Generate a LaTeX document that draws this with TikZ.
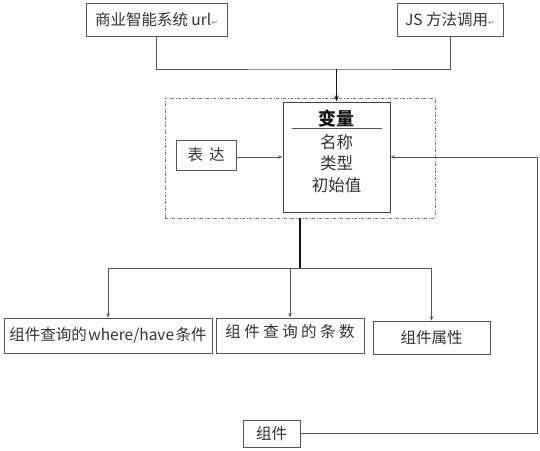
\documentclass[tikz,border=0pt]{standalone}
\usepackage{fontspec}
\setmainfont{Noto Sans CJK SC}
\newfontfamily\symfont{DejaVu Sans}
\usepackage{xcolor}
\usepackage{tikz}
\usetikzlibrary{arrows.meta, positioning, calc}
\definecolor{mydark}{RGB}{20,20,20}
\definecolor{mygray}{RGB}{85,85,85}
\definecolor{mytext}{RGB}{50,50,50}
\definecolor{myframe}{RGB}{115,115,115}
\newcommand{\retmark}{{\symfont\fontsize{8}{8}\selectfont\color{gray}↵}}
\tikzset{
  box/.style={rectangle, draw=mygray, line width=0.9pt, inner sep=0pt,
    font=\fontsize{15.5}{17}\selectfont, text=mytext},
  varbox/.style={rectangle, draw=mydark!80, line width=1pt, inner sep=0pt,
    minimum width=107pt, minimum height=110pt},
  frame/.style={rectangle, draw=myframe, line width=0.8pt, inner sep=0pt,
    dash pattern=on 3pt off 1.5pt on 1pt off 1.5pt},
  field/.style={font=\fontsize{16.5}{18}\selectfont, text=mytext, inner sep=0pt},
  arrow/.style={-{Stealth[length=4.5pt, width=3.5pt]}, line width=0.9pt, color=mygray},
  boldarrow/.style={-{Stealth[length=6pt, width=4.5pt]}, line width=1.6pt, color=mydark},
  line/.style={line width=0.9pt, color=mygray},
  boldline/.style={line width=1.6pt, color=mydark}
}

\begin{document}
\begin{tikzpicture}[x=1pt, y=-1pt]
  \useasboundingbox (0,0) rectangle (540,450);

  % Sources
  \node[box, minimum width=141pt, minimum height=33pt] (url) at (156.5,19.5) {商业智能系统 url\retmark};
  \node[box, minimum width=106pt, minimum height=33pt] (js) at (450,19.5) {JS 方法调用\retmark};

  % Variable group
  \node[frame, minimum width=270pt, minimum height=120pt] (grp) at (300,158) {};
  \node[varbox] (var) at (336.5,157) {};
  \node[field, font=\fontsize{18}{20}\selectfont\bfseries, text=mydark] (vtitle) at (336.5,119) {变量};
  \draw[line, line width=1pt] (292,128) -- (382,128);
  \node[field] (vname) at (336.5,142) {名称};
  \node[field] (vtype) at (336.5,163) {类型};
  \node[field] (vinit) at (336.5,185) {初始值};
  \node[box, minimum width=60pt, minimum height=30pt] (expr) at (206,155) {表\hspace{6pt}达};

  % Targets
  \node[box, minimum width=208pt, minimum height=35pt] (qcond) at (108,335.5) {组件查询的\hspace{1.5pt}where/have\hspace{1.5pt}条件};
  \node[box, minimum width=148pt, minimum height=35pt, text depth=9pt] (qcount) at (290,335.5) {组 件 查 询 的 条 数};
  \node[box, minimum width=117pt, minimum height=33pt] (cattr) at (431.5,337.5) {组件属性\hspace{8pt}};

  % Component
  \node[box, minimum width=57pt, minimum height=27pt] (comp) at (271.5,433.5) {组件\hspace{4pt}};

  % Connectors
  \coordinate (join) at (336.5,69);
  \coordinate (split) at (300,268);
  \coordinate (rt) at (537,157);
  \draw[line] (url.south) |- (join) -| (js.south);
  \draw[boldarrow] (join) -- (var.north);
  \draw[arrow] (expr.east |- var.west) -- (var.west);
  \draw[arrow] (comp.east) -| (rt) -- (var.east);
  \draw[boldline] (grp.south) -- (split);
  \draw[arrow] (split) -| (qcond.north);
  \draw[arrow] (split -| qcount.north) -- (qcount.north);
  \draw[arrow] (split) -| (cattr.north);
\end{tikzpicture}
\end{document}
